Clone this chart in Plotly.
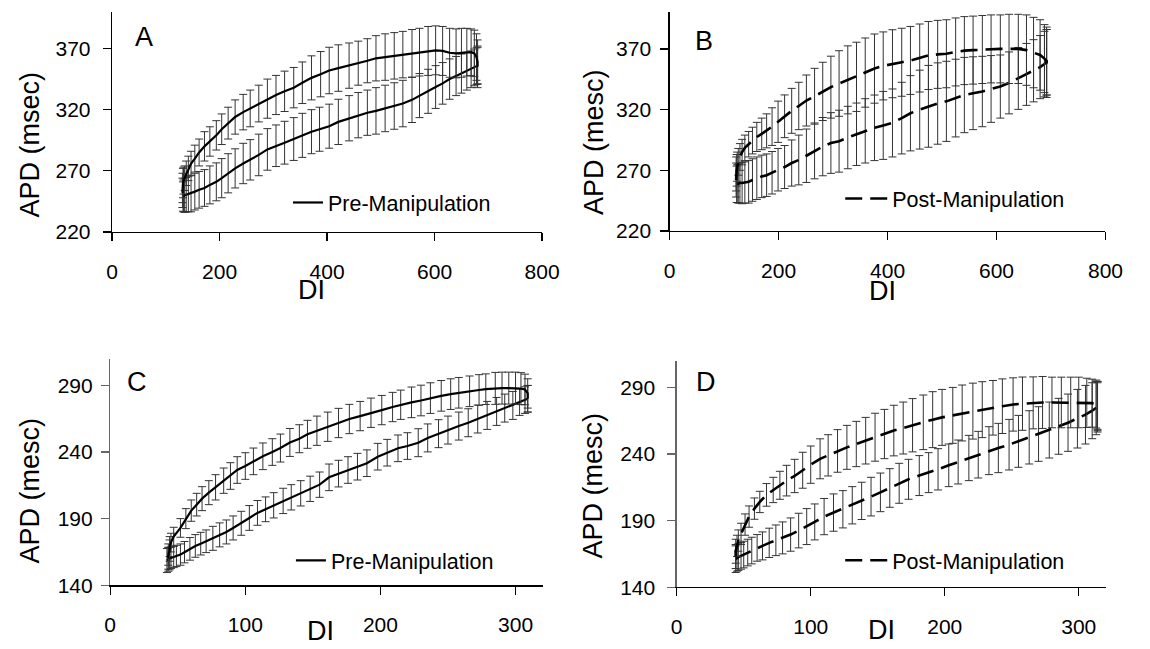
import plotly.graph_objects as go

# ---------------- data ----------------
# Panel A (Pre-Manipulation)
A_up_di = [131, 131, 132, 133, 135, 138, 142, 147, 154, 162, 172, 182, 194, 204, 216, 229, 244, 257, 273, 289,
           305, 321, 338, 354, 371, 388, 404, 421, 441, 458, 475, 491, 508, 525, 541, 558, 572, 588, 602, 615,
           628, 640, 650, 660, 668, 674, 678, 680, 680]
A_up_apd = [252, 256, 260, 262, 264, 268, 272, 276, 280, 285, 290, 294, 299, 304, 309, 314, 318, 321, 325, 329,
            332, 335, 338, 342, 346, 349, 352, 354, 356, 358, 360, 362, 363, 364, 365, 366, 367, 368, 368.5, 368,
            366.5, 366, 366.5, 367, 367, 366, 363, 359, 355]
A_up_sd = [12, 12, 12, 11, 10, 10, 10, 10, 11, 11, 12, 12, 12, 12.5, 13, 14, 14.5, 15, 15, 16,
           16, 16.5, 16.5, 17, 18, 18.5, 19, 19, 18.5, 18, 18, 18.5, 19, 19, 19, 19.5, 19.5, 20, 20, 20,
           20, 20, 20, 19.5, 19, 19, 19, 18, 17]
A_lo_di = [132, 133, 135, 138, 142, 147, 154, 162, 172, 182, 194, 204, 216, 229, 244, 257, 273, 289, 305, 321,
           338, 354, 371, 386, 404, 421, 441, 458, 475, 491, 508, 525, 541, 558, 572, 588, 602, 615, 628, 640,
           650, 660, 668, 674, 678, 680]
A_lo_apd = [249, 249.5, 250, 250.5, 251, 251.5, 253, 254.5, 256, 258.5, 261, 264, 268, 272, 276, 279, 283, 287.5, 290.5, 293,
            296, 299, 302, 304, 306.5, 310, 313, 315.5, 317.5, 319, 321, 323, 325, 328, 331.5, 335, 338.5, 341.5, 345, 347.5,
            349.5, 351.5, 353, 354.5, 355.5, 356]
A_lo_sd = [12, 13, 14, 14, 14.5, 15, 15, 15, 15, 15.5, 15.5, 16, 16, 16, 16.5, 16.5, 17, 17, 17, 17.5,
           17.5, 18, 18, 18, 18, 18.5, 18.5, 18.5, 18.5, 19, 19, 19, 19, 18.5, 18, 18, 17.5, 17, 16.5, 16,
           16, 15.5, 15, 15, 15, 15]

# Panel B (Post-Manipulation)
B_up_di = [122, 122, 123, 124, 126, 129, 133, 138, 145, 152, 160, 169, 178, 188, 199, 211, 224, 237, 251, 266,
           281, 296, 311, 327, 343, 359, 376, 392, 409, 426, 442, 459, 475, 492, 508, 525, 541, 557, 574, 590,
           607, 623, 640, 655, 668, 680, 688, 692, 692]
B_up_apd = [262, 267, 270, 273, 277, 281, 285, 288.5, 291.5, 294.5, 297.5, 300, 302.5, 306, 310, 314.5, 319, 323, 327.5, 331,
            335, 338.5, 341.5, 344.5, 347, 350.5, 353.8, 356, 357.8, 359, 360.5, 362.5, 364.6, 365.5, 366, 367.5, 368.6, 369, 369.5, 370,
            370, 370, 370, 369, 367, 365, 362, 360, 358]
B_up_sd = [14, 14, 13, 12, 11, 11, 10.5, 10.5, 10.5, 11, 12, 13, 14, 15.5, 17, 17.6, 18.5, 19.5, 21, 23,
           24, 25.5, 27, 28, 28.5, 28.5, 28.5, 28, 28, 28, 28, 28, 28, 28, 28, 28, 28, 28, 28, 28,
           28, 28.5, 28.5, 29, 29, 29, 28, 28, 28]
B_lo_di = [123, 124, 126, 129, 133, 138, 145, 152, 160, 169, 178, 188, 199, 211, 224, 237, 251, 266, 281, 296,
           311, 327, 343, 359, 376, 392, 409, 426, 442, 459, 475, 492, 508, 525, 541, 557, 574, 590, 607, 623,
           640, 655, 668, 680, 688, 692]
B_lo_apd = [258.5, 259, 259, 259.5, 259.5, 260, 260.5, 262, 263.5, 265, 266, 268, 270.5, 272.7, 276, 278.5, 282, 286, 289.5, 292.5,
            294, 297, 299.7, 302.5, 305, 307, 309, 313, 317, 320, 322.7, 325, 326.8, 329.5, 332, 333.5, 334.9, 337, 339, 342,
            345.7, 349, 352, 355, 357.5, 359]
B_lo_sd = [15, 15.5, 16, 16.5, 17, 17, 17.5, 17.5, 17.5, 17.5, 17.5, 17.5, 17.5, 17.7, 19, 20.5, 22, 23, 24, 25,
           25.5, 25.7, 25.7, 26.5, 27, 28, 28, 29.5, 31, 32.5, 33.7, 33.5, 33, 32, 31, 30, 29, 27.5, 26, 25.5,
           25.5, 25.5, 25.6, 26, 27, 27]

# Panel C (Pre-Manipulation)
C_up_di = [43, 43, 44, 44, 45, 47, 52, 56, 60, 64, 68, 73, 78, 84, 89, 94, 100, 106, 113, 120,
           126, 133, 140, 146, 153, 161, 169, 177, 185, 193, 201, 209, 215, 223, 230, 237, 245, 252, 258, 266,
           273, 278, 285, 290, 295, 300, 304, 307, 309, 309]
C_up_apd = [160, 163, 166, 169, 172, 176.5, 183, 190, 196, 200.5, 205, 209.5, 213.5, 218.5, 222, 226.5, 229.5, 233, 236.8, 240,
            243, 247.2, 250, 253.3, 256, 259, 261.8, 264.8, 267, 269.5, 271.5, 273.8, 275.5, 277.3, 278.7, 280.5, 282.2, 283.5, 284.5, 285.6,
            286.6, 287.2, 287.8, 288, 288, 288, 287.6, 287, 284, 280]
C_up_sd = [8, 8, 8, 7.5, 7, 7, 7, 7.5, 8, 8.5, 9, 9, 9.5, 9.5, 10, 10, 10, 10, 10, 10,
           10.5, 10.5, 10.5, 10.5, 11, 11, 11, 11, 11, 11, 11, 11, 11, 11.5, 11.5, 11.5, 11.5, 11.5, 11.5, 11.5,
           11.5, 11.5, 12, 12, 12, 12, 12, 11.5, 11, 10]
C_lo_di = [42, 43, 44, 45, 47, 49, 52, 55, 59, 63, 67, 71, 76, 81, 86, 91, 97, 103, 109, 115,
           121, 128, 134, 141, 148, 155, 162, 169, 176, 183, 190, 198, 205, 213, 220, 228, 235, 243, 250, 258,
           265, 272, 279, 286, 292, 298, 303, 307, 309]
C_lo_apd = [158.5, 159.5, 160, 160.5, 161.2, 162, 163, 164.8, 167.3, 169.5, 171.2, 173, 175.2, 177.8, 180, 183, 186.5, 190.5, 194.3, 197,
            200, 203.3, 206, 209, 212.4, 215.5, 221, 223.8, 226.5, 229, 231.6, 236.5, 239.5, 242.8, 244.5, 247, 250.6, 253.8, 256.5, 259.5,
            262, 264.8, 267.5, 270.5, 273, 275, 277.5, 279, 280]
C_lo_sd = [9, 9, 8.5, 8, 8, 8, 8, 8, 8.5, 8.5, 8.5, 8.5, 9, 9, 9, 9, 9, 9.3, 9.3, 9.3,
           9.5, 9.5, 9.5, 9.5, 9.5, 9.5, 10, 10, 10, 10, 10, 10, 10, 10, 10, 10.5, 10.5, 10.5, 10.5, 10.5,
           10.5, 10.5, 10.5, 10.5, 10.5, 10.5, 10, 10, 10]

# Panel D (Post-Manipulation)
D_up_di = [44, 44, 45, 46, 48, 51, 54, 58, 62, 67, 72, 77, 82, 88, 94, 100, 107, 113, 120, 127,
           134, 141, 148, 155, 162, 169, 176, 184, 191, 198, 206, 213, 221, 228, 236, 243, 251, 258, 266, 273,
           280, 287, 294, 300, 306, 310, 313, 314, 314]
D_up_apd = [163, 167, 171, 175, 180, 187, 193, 199, 204, 209.3, 213, 216.5, 220, 223.5, 227.8, 232, 236.4, 239, 242.3, 245,
            247.5, 250, 252.6, 255, 257.6, 259.5, 261.6, 263.8, 265.8, 267.5, 269, 270.8, 272.2, 273.3, 274.7, 275.9, 277.2, 277.8, 278.4, 278.7,
            278.7, 278.7, 278.7, 278.7, 278.4, 278.2, 277.5, 276.5, 275.5]
D_up_sd = [9, 9, 8, 8, 8, 8, 8, 8, 8, 8.5, 9.5, 10.5, 11.5, 12.5, 13.5, 14, 15, 15.5, 16, 16.5,
           17, 17.5, 18, 18.5, 19, 19.5, 20, 20.5, 21, 21, 21, 21, 21, 21, 20.5, 20.5, 20, 20, 19.5, 19.5,
           19, 19, 19, 19, 18.5, 18, 18, 18, 18]
D_lo_di = [44, 45, 46, 48, 50, 53, 56, 60, 64, 69, 74, 79, 85, 91, 97, 103, 110, 117, 124, 131,
           138, 145, 152, 159, 166, 173, 181, 188, 195, 203, 210, 218, 225, 233, 240, 248, 255, 263, 270, 278,
           285, 292, 299, 305, 310, 313, 314]
D_lo_apd = [161, 162, 162.6, 163.5, 164.5, 166, 167.5, 169.5, 171, 173.3, 175.2, 177, 179.5, 182.5, 185.5, 189, 193, 196, 198.5, 201.5,
            204.8, 208, 211.2, 214.5, 218, 221, 223.8, 226, 228.5, 231.5, 234, 237, 239.5, 242.5, 244.5, 247, 249.5, 252.5, 255, 258,
            260.8, 263.5, 266.5, 269.5, 272.5, 274.5, 275.5]
D_lo_sd = [10, 10, 10, 10, 10, 10, 10, 10, 10.5, 11, 11.5, 12, 12.5, 13, 13.5, 13.5, 13.6, 14, 14, 14,
           14, 14.5, 14.5, 14.5, 15, 15, 15, 15, 15.5, 16, 16.5, 17, 17.5, 18, 18.5, 19, 19.5, 20, 20.5, 21,
           21, 21.5, 22, 22, 21, 20, 19]

# axis ticks
X_TOP_TICKS = [0, 200, 400, 600, 800]
X_BOT_TICKS = [0, 100, 200, 300]
Y_TOP_TICKS = [220, 270, 320, 370]
Y_BOT_TICKS = [140, 190, 240, 290]

SERIES_PRE = "Pre-Manipulation"
SERIES_POST = "Post-Manipulation"

# ---------------- figure ----------------
W, H = 1150, 649
FONT = "Liberation Sans, Arial, sans-serif"

def px(x):
    return x / W

def py(y):
    return 1 - y / H

fig = go.Figure()

ERR_COLOR = "#333333"

def add_branch(di, apd, sd, ax, dash, name, legend, show):
    fig.add_trace(go.Scatter(
        x=di, y=apd, mode="lines", name=name,
        line=dict(color="black", width=2.2 if dash == "solid" else 2.6, dash=dash),
        error_y=dict(type="data", array=sd, visible=True, color=ERR_COLOR,
                     thickness=1, width=4),
        xaxis="x" + ax, yaxis="y" + ax,
        showlegend=show, legend=legend, hoverinfo="skip",
    ))

DASH = "17px,8px"
add_branch(A_lo_di, A_lo_apd, A_lo_sd, "", "solid", SERIES_PRE, "legend", False)
add_branch(A_up_di, A_up_apd, A_up_sd, "", "solid", SERIES_PRE, "legend", True)
add_branch(B_lo_di, B_lo_apd, B_lo_sd, "2", DASH, SERIES_POST, "legend2", False)
add_branch(B_up_di, B_up_apd, B_up_sd, "2", DASH, SERIES_POST, "legend2", True)
add_branch(C_lo_di, C_lo_apd, C_lo_sd, "3", "solid", SERIES_PRE, "legend3", False)
add_branch(C_up_di, C_up_apd, C_up_sd, "3", "solid", SERIES_PRE, "legend3", True)
add_branch(D_lo_di, D_lo_apd, D_lo_sd, "4", DASH, SERIES_POST, "legend4", False)
add_branch(D_up_di, D_up_apd, D_up_sd, "4", DASH, SERIES_POST, "legend4", True)

tickfont = dict(family=FONT, size=21, color="black")

def xaxis(dom, rng, ticks, anchor, linecolor="black"):
    return dict(domain=dom, range=rng, tickvals=ticks, ticktext=[str(t) for t in ticks],
                showgrid=False, zeroline=False, showline=True, linecolor=linecolor, linewidth=1.3,
                ticks="outside", ticklen=8, tickcolor=linecolor, tickwidth=1.3,
                tickfont=tickfont, ticklabelstandoff=12, anchor=anchor, fixedrange=True)

def yaxis(dom, rng, ticks, anchor, standoff, linecolor="black"):
    return dict(domain=dom, range=rng, tickvals=ticks, ticktext=[str(t) for t in ticks],
                showgrid=False, zeroline=False, showline=True, linecolor=linecolor, linewidth=1.3,
                ticks="outside", ticklen=8, tickcolor=linecolor, tickwidth=1.3,
                tickfont=tickfont, ticklabelstandoff=standoff, anchor=anchor, fixedrange=True)

dA_x = [px(108.3), px(547.5)]; dA_y = [py(236), py(12)]
dB_x = [px(677.8), px(1122.9)]; dB_y = [py(235), py(12.7)]
dC_x = [px(106.4), px(548.0)]; dC_y = [py(595.3), py(365)]
dD_x = [px(685.0), px(1123.0)]; dD_y = [py(597.3), py(367)]

legfont = dict(family=FONT, size=21.5, color="black")

def leg(x, y, w):
    return dict(x=x, y=y, xanchor="left", yanchor="middle", font=legfont,
                bgcolor="rgba(0,0,0,0)", borderwidth=0, itemwidth=w, tracegroupgap=0)

fig.update_layout(
    width=W, height=H, margin=dict(l=0, r=0, t=0, b=0),
    paper_bgcolor="white", plot_bgcolor="white",
    font=dict(family=FONT, color="black"),
    xaxis=xaxis(dA_x, [0, 800], X_TOP_TICKS, "y"),
    yaxis=yaxis(dA_y, [220, 400], Y_TOP_TICKS, "x", 8),
    xaxis2=xaxis(dB_x, [0, 800], X_TOP_TICKS, "y2"),
    yaxis2=yaxis(dB_y, [220, 400], Y_TOP_TICKS, "x2", 5),
    xaxis3=xaxis(dC_x, [0, 320], X_BOT_TICKS, "y3"),
    yaxis3=yaxis(dC_y, [140, 310], Y_BOT_TICKS, "x3", 4, "#666666"),
    xaxis4=xaxis(dD_x, [0, 320], X_BOT_TICKS, "y4"),
    yaxis4=yaxis(dD_y, [140, 310], Y_BOT_TICKS, "x4", 8, "#666666"),
    legend=leg(px(288), py(206), 30),
    legend2=leg(px(852), py(202), 42),
    legend3=leg(px(291), py(570), 30),
    legend4=leg(px(852), py(570), 42),
)

annots = []
def txt(s, x, y, size, angle=0):
    annots.append(dict(text=s, x=px(x), y=py(y), xref="paper", yref="paper",
                       xanchor="center", yanchor="middle", showarrow=False,
                       textangle=angle, font=dict(family=FONT, size=size, color="black")))

# panel letters
txt("A", 140.5, 38, 27)
txt("B", 713, 42, 27)
txt("C", 134, 388.5, 27)
txt("D", 715, 388.5, 27)
# y titles
txt("APD (msec)", 25, 146.5, 27, -90)
txt("APD (mesc)", 600, 144, 27, -90)
txt("APD (mesc)", 25, 498.5, 27, -90)
txt("APD (mesc)", 600, 493.5, 27, -90)
# x titles
txt("DI", 312.5, 295, 27)
txt("DI", 895, 296.5, 27)
txt("DI", 321, 642, 27)
txt("DI", 894.5, 641, 27)

fig.update_layout(annotations=annots)

fig.write_html(
    "out.html",
    config={"displayModeBar": False, "staticPlot": True},
    post_script="document.body.style.margin='0';document.body.style.overflow='hidden';",
)
